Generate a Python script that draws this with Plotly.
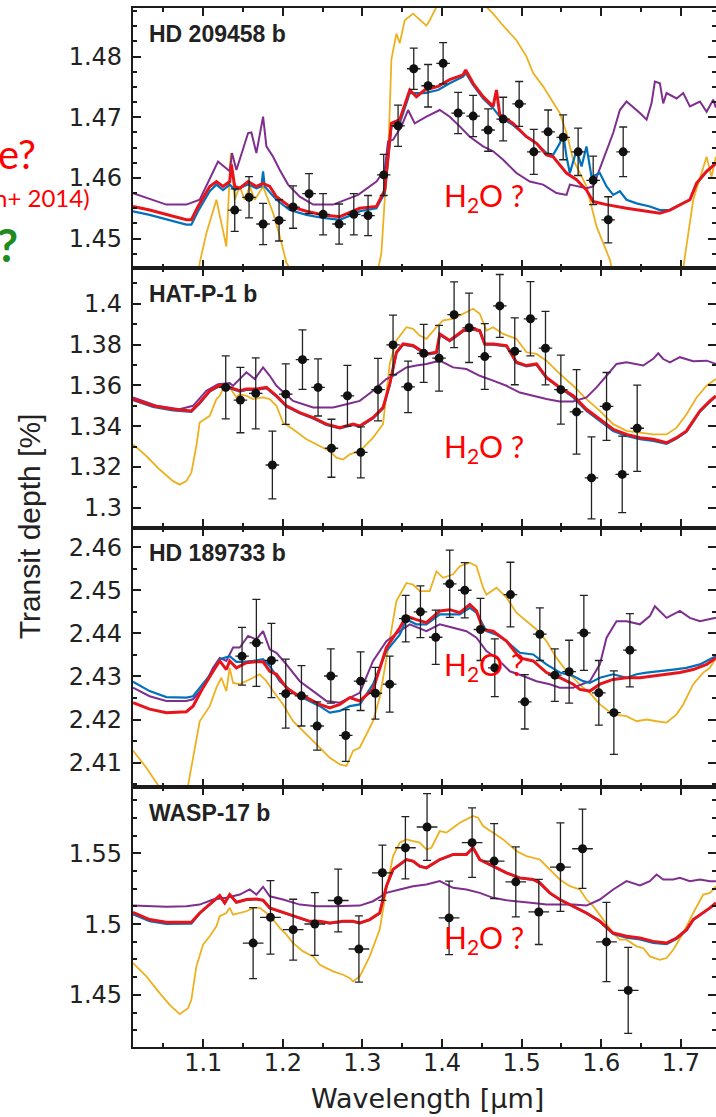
import plotly.graph_objects as go
from plotly.subplots import make_subplots

# ---------------- observations (wavelength um, transit depth %, 1-sigma) -------------
P1_NAME = "HD 209458 b"
P1_WL = [1.1396, 1.1576, 1.1752, 1.1953, 1.2129, 1.2330, 1.2506, 1.2707, 1.2892, 1.3071,
         1.3268, 1.3448, 1.3645, 1.3825, 1.4014, 1.4202, 1.4391, 1.4579, 1.4768, 1.4969,
         1.5153, 1.5333, 1.5522, 1.5710, 1.5899, 1.6088, 1.6276]
P1_DEPTH = [1.4547, 1.4568, 1.4524, 1.4530, 1.4552, 1.4574, 1.4540, 1.4524, 1.4540, 1.4538,
            1.4605, 1.4686, 1.4780, 1.4752, 1.4789, 1.4707, 1.4702, 1.4679, 1.4697, 1.4722,
            1.4643, 1.4676, 1.4667, 1.4643, 1.4596, 1.4531, 1.4643]
P1_ERR = [0.0035, 0.0034, 0.0034, 0.0034, 0.0035, 0.0033, 0.0034, 0.0033, 0.0034, 0.0033,
          0.0034, 0.0034, 0.0034, 0.0035, 0.0034, 0.0034, 0.0034, 0.0035, 0.0036, 0.0037,
          0.0037, 0.0036, 0.0037, 0.0039, 0.0040, 0.0038, 0.0041]

P2_NAME = "HAT-P-1 b"
P2_WL = [1.1283, 1.1467, 1.1660, 1.1869, 1.2037, 1.2247, 1.2443, 1.2611, 1.2812, 1.2980,
         1.3196, 1.3385, 1.3574, 1.3770, 1.3963, 1.4152, 1.4340, 1.4537, 1.4726, 1.4914,
         1.5111, 1.5300, 1.5493, 1.5690, 1.5878, 1.6067, 1.6264, 1.6452]
P2_DEPTH = [1.3590, 1.3528, 1.3561, 1.3210, 1.3557, 1.3726, 1.3590, 1.3292, 1.3549, 1.3272,
            1.3579, 1.3798, 1.3593, 1.3757, 1.3733, 1.3946, 1.3882, 1.3741, 1.3989, 1.3767,
            1.3926, 1.3782, 1.3579, 1.3470, 1.3147, 1.3497, 1.3164, 1.3390]
P2_ERR = [0.0154, 0.0160, 0.0174, 0.0166, 0.0148, 0.0146, 0.0140, 0.0142, 0.0149, 0.0125,
          0.0153, 0.0146, 0.0126, 0.0142, 0.0161, 0.0161, 0.0170, 0.0161, 0.0154, 0.0164,
          0.0182, 0.0180, 0.0169, 0.0207, 0.0201, 0.0166, 0.0187, 0.0211]

P3_NAME = "HD 189733 b"
P3_WL = [1.1488, 1.1668, 1.1857, 1.2037, 1.2234, 1.2431, 1.2603, 1.2791, 1.2977, 1.3163,
         1.3343, 1.3544, 1.3729, 1.3921, 1.4097, 1.4286, 1.4483, 1.4663, 1.4860, 1.5040,
         1.5229, 1.5417, 1.5597, 1.5782, 1.5970, 1.6159, 1.6360]
P3_DEPTH = [2.4347, 2.4378, 2.4337, 2.4260, 2.4255, 2.4185, 2.4301, 2.4163, 2.4289, 2.4261,
            2.4282, 2.4434, 2.4450, 2.4391, 2.4515, 2.4500, 2.4409, 2.4320, 2.4490, 2.4241,
            2.4398, 2.4303, 2.4311, 2.4401, 2.4262, 2.4216, 2.4361]
P3_ERR = [0.0067, 0.0101, 0.0086, 0.0080, 0.0070, 0.0056, 0.0063, 0.0060, 0.0068, 0.0060,
          0.0065, 0.0054, 0.0060, 0.0063, 0.0078, 0.0064, 0.0072, 0.0067, 0.0075, 0.0063,
          0.0061, 0.0061, 0.0073, 0.0087, 0.0075, 0.0097, 0.0085]

P4_NAME = "WASP-17 b"
P4_WL = [1.1627, 1.1845, 1.2130, 1.2402, 1.2696, 1.2956, 1.3251, 1.3540, 1.3812, 1.4089,
         1.4378, 1.4655, 1.4927, 1.5216, 1.5488, 1.5765, 1.6066, 1.6339]
P4_DEPTH = [1.4866, 1.5048, 1.4961, 1.5001, 1.5167, 1.4824, 1.5363, 1.5540, 1.5687, 1.5044,
            1.5576, 1.5446, 1.5299, 1.5086, 1.5403, 1.5533, 1.4874, 1.4531]
P4_ERR = [0.0251, 0.0260, 0.0215, 0.0222, 0.0222, 0.0234, 0.0195, 0.0220, 0.0236, 0.0260,
          0.0246, 0.0265, 0.0248, 0.0230, 0.0313, 0.0280, 0.0280, 0.0304]

BIN_HALF_WIDTH = [0.0085, 0.0085, 0.0085, 0.0130]

# ---------------- model spectra: (wavelength, depth) pairs ----------------
P1_YELLOW = [(1.0118, 1.428), (1.05, 1.432), (1.09, 1.440), (1.0956, 1.446), (1.104, 1.4509),
             (1.1166, 1.4564), (1.1291, 1.4487), (1.1346, 1.4641), (1.1396, 1.4564), (1.1459, 1.4586),
             (1.1522, 1.4564), (1.1584, 1.4586), (1.1647, 1.4564), (1.1752, 1.4586), (1.1815, 1.4564),
             (1.1878, 1.4542), (1.1962, 1.4504), (1.2045, 1.446), (1.2129, 1.4443), (1.25, 1.430),
             (1.30, 1.432), (1.3238, 1.4476), (1.328, 1.4564), (1.3322, 1.463), (1.3364, 1.4795),
             (1.3427, 1.4838), (1.3469, 1.4822), (1.3532, 1.486), (1.3636, 1.4871), (1.3804, 1.4851),
             (1.3846, 1.486), (1.393, 1.4882), (1.4014, 1.4893), (1.4223, 1.493), (1.4433, 1.4915),
             (1.4558, 1.4882), (1.4642, 1.4871), (1.4768, 1.4851), (1.4935, 1.4827), (1.5061, 1.480),
             (1.5145, 1.4773), (1.527, 1.4751), (1.5375, 1.4729), (1.548, 1.4707), (1.5564, 1.4674),
             (1.5648, 1.463), (1.5815, 1.4586), (1.5941, 1.452), (1.6109, 1.4465), (1.615, 1.444),
             (1.6318, 1.430), (1.6737, 1.430), (1.6988, 1.444), (1.703, 1.4451), (1.7156, 1.4564),
             (1.7282, 1.4619), (1.7324, 1.4635), (1.7386, 1.4602), (1.7441, 1.4635)]
P1_PURPLE = [(1.0118, 1.4575), (1.0537, 1.4556), (1.0788, 1.4556), (1.0956, 1.4564), (1.1186, 1.4627),
             (1.1333, 1.4611), (1.1362, 1.4641), (1.1417, 1.4613), (1.1564, 1.4674), (1.1605, 1.4675),
             (1.1668, 1.4641), (1.1752, 1.4701), (1.1794, 1.4652), (1.1878, 1.4635), (1.1962, 1.4613),
             (1.2066, 1.4589), (1.2213, 1.4569), (1.2381, 1.4556), (1.2632, 1.4556), (1.28, 1.4564),
             (1.2946, 1.4572), (1.3176, 1.4594), (1.328, 1.4613), (1.3322, 1.466), (1.3385, 1.4663),
             (1.349, 1.4685), (1.3574, 1.4712), (1.3657, 1.469), (1.3804, 1.4701), (1.3972, 1.4712),
             (1.4097, 1.4701), (1.4223, 1.4685), (1.4349, 1.4668), (1.4516, 1.4652), (1.4642, 1.4644),
             (1.4768, 1.463), (1.4935, 1.4608), (1.5103, 1.4594), (1.527, 1.4589), (1.5438, 1.4575),
             (1.5564, 1.4572), (1.5606, 1.4589), (1.5815, 1.4583), (1.5899, 1.4586), (1.6025, 1.463),
             (1.615, 1.4674), (1.6234, 1.4712), (1.6318, 1.4726), (1.6486, 1.4707), (1.657, 1.4696),
             (1.6632, 1.4723), (1.6674, 1.4759), (1.6737, 1.4756), (1.6779, 1.4723), (1.6821, 1.474),
             (1.6947, 1.4731), (1.703, 1.474), (1.7114, 1.4718), (1.724, 1.4726), (1.7324, 1.4709),
             (1.7407, 1.4729), (1.7441, 1.4716)]
P1_BLUE = [(1.0118, 1.4545), (1.0327, 1.4539), (1.0788, 1.4523), (1.0851, 1.4523), (1.0935, 1.4545),
           (1.1082, 1.4578), (1.1166, 1.4589), (1.1249, 1.458), (1.1333, 1.4589), (1.1396, 1.458),
           (1.1564, 1.4589), (1.1668, 1.4583), (1.1731, 1.4586), (1.1752, 1.4611), (1.1773, 1.4586),
           (1.192, 1.4564), (1.2087, 1.4547), (1.2297, 1.4539), (1.2506, 1.4534), (1.2716, 1.4531),
           (1.2925, 1.4542), (1.2966, 1.4545), (1.3176, 1.455), (1.328, 1.4575), (1.3364, 1.4685),
           (1.3469, 1.469), (1.3595, 1.474), (1.3783, 1.474), (1.3951, 1.4745), (1.4097, 1.4756),
           (1.4265, 1.4767), (1.4298, 1.4773), (1.4391, 1.4753), (1.4516, 1.4731), (1.4642, 1.4715),
           (1.4726, 1.4701), (1.4893, 1.4687), (1.5061, 1.4668), (1.5187, 1.4657), (1.5312, 1.4641),
           (1.5396, 1.4638), (1.548, 1.4657), (1.5522, 1.4674), (1.5564, 1.4635), (1.5606, 1.4608),
           (1.569, 1.4646), (1.5753, 1.4619), (1.5815, 1.4652), (1.5878, 1.4602), (1.5983, 1.4608),
           (1.6067, 1.4586), (1.615, 1.4572), (1.6234, 1.4578), (1.6318, 1.4564), (1.6444, 1.4558),
           (1.6611, 1.4553), (1.6737, 1.4547), (1.6863, 1.4547), (1.6988, 1.4556), (1.7114, 1.4564),
           (1.7198, 1.4591), (1.7324, 1.4611), (1.7441, 1.4624)]
P1_RED = [(1.0118, 1.4553), (1.0327, 1.4547), (1.0788, 1.4531), (1.0851, 1.4531), (1.0935, 1.4553),
          (1.1082, 1.4586), (1.1166, 1.4594), (1.1249, 1.4586), (1.1333, 1.4594), (1.1354, 1.4622),
          (1.1396, 1.4586), (1.1459, 1.4583), (1.1564, 1.4594), (1.1668, 1.4586), (1.1752, 1.4591),
          (1.1836, 1.4586), (1.192, 1.4569), (1.2087, 1.4553), (1.2297, 1.4545), (1.2506, 1.4539),
          (1.2716, 1.4536), (1.2925, 1.4547), (1.2966, 1.455), (1.3176, 1.4553), (1.328, 1.458),
          (1.3364, 1.469), (1.3469, 1.4696), (1.3595, 1.4745), (1.3678, 1.4734), (1.3783, 1.4745),
          (1.3951, 1.4751), (1.4097, 1.4762), (1.4265, 1.477), (1.4298, 1.4778), (1.4391, 1.4756),
          (1.4516, 1.4734), (1.4642, 1.4718), (1.4684, 1.4745), (1.4726, 1.4704), (1.4893, 1.469),
          (1.5061, 1.4668), (1.5187, 1.4657), (1.5312, 1.4638), (1.5396, 1.4635), (1.5564, 1.4608),
          (1.569, 1.4597), (1.5815, 1.458), (1.5899, 1.4561), (1.6067, 1.4556), (1.6318, 1.455),
          (1.657, 1.4545), (1.6737, 1.4542), (1.6863, 1.4547), (1.6988, 1.4556), (1.7114, 1.4564),
          (1.7198, 1.4591), (1.7324, 1.4611), (1.7441, 1.4624)]

P2_YELLOW = [(1.0118, 1.3311), (1.0286, 1.3254), (1.0453, 1.3188), (1.0621, 1.3131), (1.0704, 1.3114),
             (1.0788, 1.3131), (1.0851, 1.3172), (1.0914, 1.3303), (1.0956, 1.3418), (1.1082, 1.3451),
             (1.1166, 1.3533), (1.1207, 1.3549), (1.1249, 1.3582), (1.1333, 1.359), (1.1375, 1.3565),
             (1.1417, 1.3541), (1.1459, 1.3557), (1.1543, 1.3549), (1.1626, 1.3533), (1.1752, 1.3541),
             (1.1836, 1.3533), (1.192, 1.350), (1.2003, 1.3418), (1.2129, 1.3385), (1.2297, 1.3336),
             (1.2464, 1.3303), (1.259, 1.3278), (1.2674, 1.3246), (1.2758, 1.3237), (1.2841, 1.3262),
             (1.2967, 1.3278), (1.3134, 1.3344), (1.3259, 1.341), (1.3343, 1.3705), (1.3427, 1.382),
             (1.3553, 1.3885), (1.3636, 1.3877), (1.372, 1.3844), (1.3804, 1.3828), (1.393, 1.3885),
             (1.4014, 1.3918), (1.4139, 1.3926), (1.4307, 1.3959), (1.4391, 1.3975), (1.4474, 1.3951),
             (1.4558, 1.3869), (1.4642, 1.3885), (1.4768, 1.3852), (1.4935, 1.3828), (1.5061, 1.3762),
             (1.5187, 1.3754), (1.5312, 1.3721), (1.548, 1.3656), (1.5648, 1.3598), (1.5815, 1.3533),
             (1.5983, 1.3475), (1.615, 1.341), (1.6318, 1.3377), (1.6486, 1.3369), (1.6653, 1.336),
             (1.6821, 1.336), (1.6947, 1.3393), (1.7072, 1.3459), (1.7198, 1.3541), (1.7324, 1.3598),
             (1.7441, 1.3631)]
P2_PURPLE = [(1.0118, 1.3541), (1.0411, 1.350), (1.0704, 1.3483), (1.0872, 1.350), (1.104, 1.3574),
             (1.1186, 1.3606), (1.1333, 1.3611), (1.1375, 1.3598), (1.1543, 1.3664), (1.1647, 1.3631),
             (1.1752, 1.3688), (1.1836, 1.3647), (1.192, 1.3598), (1.2129, 1.3524), (1.2381, 1.3492),
             (1.2632, 1.3492), (1.28, 1.3508), (1.2967, 1.3524), (1.3134, 1.3574), (1.3301, 1.3631),
             (1.3385, 1.3647), (1.3553, 1.3688), (1.3678, 1.3697), (1.3804, 1.3705), (1.3972, 1.3721),
             (1.4139, 1.3688), (1.4307, 1.368), (1.4474, 1.3647), (1.4642, 1.3623), (1.481, 1.3598),
             (1.4977, 1.3565), (1.5145, 1.3549), (1.5312, 1.3533), (1.548, 1.3521), (1.5648, 1.3521),
             (1.5815, 1.3541), (1.5941, 1.359), (1.6067, 1.3647), (1.6192, 1.3705), (1.6318, 1.3713),
             (1.6528, 1.3697), (1.6653, 1.373), (1.6716, 1.3757), (1.6779, 1.3729), (1.6863, 1.3713),
             (1.6988, 1.3738), (1.7156, 1.3718), (1.7324, 1.3721), (1.7441, 1.3705)]
P2_BLUE = [(1.0118, 1.3528), (1.0369, 1.3495), (1.0621, 1.3478), (1.0851, 1.3470), (1.0956, 1.3511),
           (1.1082, 1.3570), (1.1207, 1.3597), (1.1333, 1.3586), (1.1459, 1.3570), (1.1543, 1.3578),
           (1.1668, 1.3578), (1.1794, 1.3586), (1.192, 1.3545), (1.2045, 1.3496), (1.2213, 1.3463),
           (1.2381, 1.3438), (1.2548, 1.3406), (1.2716, 1.3389), (1.2883, 1.3406), (1.2967, 1.3397),
           (1.3134, 1.3438), (1.3259, 1.3487), (1.3343, 1.3602), (1.3427, 1.3758), (1.3511, 1.3799),
           (1.3636, 1.3791), (1.3804, 1.375), (1.393, 1.3758), (1.3972, 1.3848), (1.4097, 1.3816),
           (1.4181, 1.384), (1.4265, 1.3865), (1.4391, 1.3873), (1.4474, 1.3865), (1.4537, 1.3799),
           (1.4642, 1.3799), (1.481, 1.3791), (1.4935, 1.3709), (1.5061, 1.3693), (1.5187, 1.3701),
           (1.5312, 1.3635), (1.548, 1.3586), (1.5648, 1.3541), (1.5815, 1.3475), (1.5983, 1.3426),
           (1.615, 1.3377), (1.6318, 1.3352), (1.6486, 1.3336), (1.6653, 1.3328), (1.6821, 1.3314),
           (1.6947, 1.334), (1.7072, 1.3373), (1.7156, 1.3422), (1.724, 1.3471), (1.7366, 1.352),
           (1.7441, 1.3545)]
P2_RED = [(1.0118, 1.3533), (1.0369, 1.350), (1.0621, 1.3483), (1.0851, 1.3475), (1.0956, 1.3516),
          (1.1082, 1.3574), (1.1207, 1.3601), (1.1333, 1.359), (1.1459, 1.3574), (1.1543, 1.3582),
          (1.1668, 1.3582), (1.1794, 1.359), (1.192, 1.3549), (1.2045, 1.350), (1.2213, 1.3467),
          (1.2381, 1.3442), (1.2548, 1.341), (1.2716, 1.3393), (1.2883, 1.341), (1.2967, 1.3401),
          (1.3134, 1.3442), (1.3259, 1.3491), (1.3343, 1.3606), (1.3427, 1.3762), (1.3511, 1.3803),
          (1.3636, 1.3795), (1.3804, 1.3754), (1.393, 1.3762), (1.3972, 1.3852), (1.4097, 1.382),
          (1.4181, 1.3844), (1.4265, 1.3869), (1.4391, 1.3877), (1.4474, 1.3869), (1.4537, 1.3803),
          (1.4642, 1.3803), (1.481, 1.3795), (1.4935, 1.3713), (1.5061, 1.3697), (1.5187, 1.3705),
          (1.5312, 1.3639), (1.548, 1.359), (1.5648, 1.3549), (1.5815, 1.3483), (1.5983, 1.3434),
          (1.615, 1.3385), (1.6318, 1.336), (1.6486, 1.3344), (1.6653, 1.3336), (1.6821, 1.3319),
          (1.6947, 1.3344), (1.7072, 1.3377), (1.7156, 1.3426), (1.724, 1.3475), (1.7366, 1.3524),
          (1.7441, 1.3549)]

P3_YELLOW = [(1.0118, 2.4128), (1.0286, 2.4088), (1.0453, 2.4042), (1.0621, 2.4010), (1.0788, 2.4025),
             (1.0872, 2.4111), (1.0956, 2.4196), (1.1082, 2.4231), (1.1166, 2.4274), (1.1228, 2.4297),
             (1.1291, 2.4266), (1.1333, 2.432), (1.1375, 2.4285), (1.1459, 2.4282), (1.1543, 2.4289),
             (1.1626, 2.4297), (1.171, 2.4305), (1.1794, 2.4289), (1.1878, 2.4266), (1.2003, 2.4235),
             (1.2129, 2.4196), (1.2297, 2.4166), (1.2464, 2.4135), (1.259, 2.4111), (1.2716, 2.4096),
             (1.28, 2.4092), (1.2883, 2.4127), (1.2967, 2.4135), (1.3134, 2.4196), (1.3217, 2.4251),
             (1.3343, 2.4382), (1.3427, 2.4475), (1.3553, 2.4517), (1.3636, 2.4513), (1.372, 2.4498),
             (1.3846, 2.4498), (1.393, 2.4544), (1.4014, 2.4529), (1.4139, 2.4537), (1.4223, 2.4556),
             (1.4349, 2.4564), (1.4433, 2.4556), (1.4516, 2.4506), (1.4558, 2.449), (1.4684, 2.4506),
             (1.481, 2.4483), (1.4935, 2.4448), (1.5061, 2.4428), (1.5187, 2.4409), (1.5312, 2.4382),
             (1.5438, 2.4343), (1.5564, 2.4312), (1.569, 2.4289), (1.5773, 2.4274), (1.5857, 2.4262),
             (1.5983, 2.4235), (1.615, 2.4212), (1.6318, 2.4208), (1.6444, 2.4196), (1.657, 2.420),
             (1.6695, 2.4196), (1.6821, 2.4193), (1.6947, 2.4212), (1.703, 2.4235), (1.7156, 2.4282),
             (1.7282, 2.4309), (1.7366, 2.432), (1.7441, 2.4343)]
P3_PURPLE = [(1.0118, 2.4274), (1.0327, 2.4254), (1.0537, 2.4243), (1.0788, 2.4243), (1.0872, 2.4247),
             (1.0998, 2.4274), (1.1124, 2.432), (1.1207, 2.4343), (1.1291, 2.4336), (1.1375, 2.4367),
             (1.1459, 2.4367), (1.1564, 2.4394), (1.1668, 2.4386), (1.1752, 2.4405), (1.1836, 2.4363),
             (1.192, 2.4355), (1.2045, 2.4328), (1.2213, 2.4289), (1.2381, 2.4266), (1.2548, 2.4243),
             (1.2716, 2.4239), (1.2841, 2.4251), (1.2967, 2.4262), (1.3134, 2.4336), (1.3301, 2.4382),
             (1.3469, 2.4405), (1.3595, 2.4421), (1.3804, 2.4405), (1.3972, 2.4421), (1.4139, 2.4413),
             (1.4307, 2.4405), (1.4433, 2.439), (1.4558, 2.4359), (1.4684, 2.4343), (1.4852, 2.4312),
             (1.5019, 2.4301), (1.5187, 2.4289), (1.5354, 2.4282), (1.548, 2.4274), (1.5648, 2.4274),
             (1.5773, 2.4282), (1.5857, 2.4289), (1.5983, 2.4328), (1.6067, 2.439), (1.6192, 2.4428),
             (1.6318, 2.4428), (1.6486, 2.4421), (1.6611, 2.444), (1.6674, 2.4463), (1.6737, 2.4452),
             (1.6821, 2.4436), (1.6988, 2.4452), (1.7114, 2.4436), (1.724, 2.4428), (1.7441, 2.4436)]
P3_BLUE = [(1.0118, 2.4288), (1.0327, 2.4266), (1.0537, 2.4252), (1.0788, 2.4251), (1.0872, 2.4254),
           (1.0998, 2.4282), (1.1124, 2.4312), (1.1207, 2.434), (1.1333, 2.4347), (1.1417, 2.4334),
           (1.15, 2.4334), (1.1626, 2.4336), (1.1752, 2.434), (1.1836, 2.4324), (1.1962, 2.4289),
           (1.2129, 2.4262), (1.2297, 2.4247), (1.2464, 2.4231), (1.259, 2.4216), (1.2716, 2.422),
           (1.2841, 2.4231), (1.2967, 2.4235), (1.3134, 2.4282), (1.3301, 2.4359), (1.3469, 2.4397),
           (1.3553, 2.4432), (1.3678, 2.4421), (1.3804, 2.4421), (1.3972, 2.4444), (1.4097, 2.4444),
           (1.4223, 2.4444), (1.4349, 2.4459), (1.4433, 2.4448), (1.4558, 2.4405), (1.4684, 2.4397),
           (1.481, 2.4382), (1.4977, 2.4355), (1.5145, 2.4351), (1.5312, 2.4328), (1.548, 2.4309),
           (1.5648, 2.4301), (1.5773, 2.4289), (1.5857, 2.4285), (1.5983, 2.4297), (1.615, 2.4305),
           (1.6318, 2.4297), (1.6444, 2.4305), (1.657, 2.4309), (1.6737, 2.4312), (1.6905, 2.4316),
           (1.7072, 2.432), (1.724, 2.4328), (1.7366, 2.434), (1.7441, 2.4347)]
P3_RED = [(1.0118, 2.4239), (1.0327, 2.4224), (1.0537, 2.4216), (1.0788, 2.4218), (1.0872, 2.4231),
          (1.0998, 2.4274), (1.1124, 2.4312), (1.1207, 2.4336), (1.1291, 2.4316), (1.1333, 2.4336),
          (1.1417, 2.432), (1.1543, 2.4332), (1.1668, 2.4334), (1.1752, 2.4334), (1.1836, 2.4312),
          (1.192, 2.4305), (1.2045, 2.4274), (1.2171, 2.4258), (1.2297, 2.4251), (1.2464, 2.4235),
          (1.259, 2.4227), (1.2716, 2.4235), (1.2841, 2.4251), (1.2967, 2.4243), (1.3134, 2.427),
          (1.3301, 2.4367), (1.3469, 2.4413), (1.3553, 2.444), (1.3678, 2.4432), (1.3804, 2.4425),
          (1.3972, 2.4452), (1.4097, 2.4455), (1.4223, 2.4448), (1.4349, 2.4467), (1.4433, 2.4452),
          (1.4516, 2.4409), (1.4642, 2.4405), (1.481, 2.4382), (1.4977, 2.4343), (1.5145, 2.4336),
          (1.5312, 2.4309), (1.548, 2.4297), (1.5648, 2.4282), (1.5731, 2.427), (1.5857, 2.4266),
          (1.5983, 2.4282), (1.615, 2.4293), (1.6318, 2.4297), (1.6486, 2.4297), (1.6653, 2.4301),
          (1.6821, 2.4305), (1.6988, 2.4309), (1.7156, 2.4316), (1.7324, 2.4328), (1.7441, 2.4343)]

P4_YELLOW = [(1.0118, 1.4725), (1.0286, 1.463), (1.0453, 1.4512), (1.0579, 1.4429), (1.0704, 1.4363),
             (1.0809, 1.4405), (1.0851, 1.4465), (1.0914, 1.4701), (1.0998, 1.4855), (1.1082, 1.4914),
             (1.1166, 1.4985), (1.1207, 1.5056), (1.1291, 1.5079), (1.1333, 1.5115), (1.1375, 1.5067),
             (1.1459, 1.5079), (1.1543, 1.5091), (1.1626, 1.5115), (1.171, 1.5115), (1.1794, 1.5079),
             (1.1878, 1.5032), (1.1962, 1.4973), (1.2045, 1.4926), (1.2129, 1.4866), (1.2255, 1.4807),
             (1.2381, 1.4772), (1.2464, 1.4713), (1.2548, 1.4689), (1.2632, 1.4666), (1.2758, 1.4642),
             (1.2841, 1.4618), (1.2883, 1.4595), (1.2967, 1.463), (1.3092, 1.4772), (1.3217, 1.4961),
             (1.3301, 1.5245), (1.3385, 1.5481), (1.3469, 1.5576), (1.3553, 1.5599), (1.3636, 1.5587),
             (1.372, 1.5576), (1.3804, 1.5528), (1.3867, 1.554), (1.3972, 1.5658), (1.4055, 1.5647),
             (1.4139, 1.5682), (1.4223, 1.5717), (1.4307, 1.5741), (1.4391, 1.5765), (1.4453, 1.5753),
             (1.4516, 1.5694), (1.4642, 1.5647), (1.4768, 1.5599), (1.4935, 1.5517), (1.5061, 1.5481),
             (1.5229, 1.5457), (1.5354, 1.5387), (1.548, 1.5316), (1.5606, 1.5268), (1.5731, 1.5245),
             (1.5815, 1.5174), (1.5899, 1.5127), (1.6025, 1.5032), (1.615, 1.4937), (1.6234, 1.489),
             (1.6318, 1.489), (1.6444, 1.4843), (1.6528, 1.4831), (1.6611, 1.4772), (1.6737, 1.4748),
             (1.6821, 1.476), (1.6905, 1.4819), (1.703, 1.4937), (1.7156, 1.5079), (1.7282, 1.5209),
             (1.7366, 1.5221), (1.7441, 1.5268)]
P4_PURPLE = [(1.0118, 1.5131), (1.0537, 1.5122), (1.0788, 1.5127), (1.0956, 1.5138), (1.1124, 1.5174),
             (1.1291, 1.5186), (1.1459, 1.5209), (1.1584, 1.5245), (1.1668, 1.5209), (1.1752, 1.5264),
             (1.1836, 1.5197), (1.2003, 1.5174), (1.2213, 1.5138), (1.2422, 1.5127), (1.2632, 1.5127),
             (1.2967, 1.5131), (1.3134, 1.5162), (1.3301, 1.5221), (1.3469, 1.5245), (1.3636, 1.5268),
             (1.3804, 1.528), (1.3972, 1.5304), (1.4139, 1.5257), (1.4307, 1.5245), (1.4474, 1.5221),
             (1.4642, 1.5186), (1.481, 1.5169), (1.4977, 1.5162), (1.5145, 1.515), (1.5312, 1.5138),
             (1.548, 1.5138), (1.5648, 1.5138), (1.5815, 1.5131), (1.5983, 1.5174), (1.615, 1.5245),
             (1.6318, 1.5304), (1.6486, 1.5273), (1.6611, 1.5304), (1.6695, 1.5351), (1.6779, 1.5316),
             (1.6905, 1.5316), (1.6988, 1.5327), (1.7114, 1.5304), (1.724, 1.5316), (1.7366, 1.5304),
             (1.7441, 1.5304)]
P4_BLUE = [(1.0118, 1.5070), (1.0327, 1.5020), (1.0537, 1.5002), (1.0851, 1.5003), (1.0956, 1.5075),
           (1.1124, 1.5160), (1.1207, 1.5200), (1.127, 1.5148), (1.1333, 1.5207), (1.1417, 1.5153),
           (1.1543, 1.5172), (1.1668, 1.5176), (1.1752, 1.5167), (1.1836, 1.5113), (1.1962, 1.5089),
           (1.2087, 1.5065), (1.2213, 1.5042), (1.2339, 1.5018), (1.2464, 1.5018), (1.259, 1.5006),
           (1.2758, 1.5018), (1.2883, 1.5018), (1.2967, 1.5006), (1.3092, 1.503), (1.3217, 1.5077),
           (1.3301, 1.5266), (1.3385, 1.5385), (1.3469, 1.542), (1.3553, 1.5455), (1.3636, 1.5444),
           (1.372, 1.5408), (1.3804, 1.5396), (1.3972, 1.5455), (1.4139, 1.5491), (1.4307, 1.5491),
           (1.4391, 1.5538), (1.4474, 1.5455), (1.4642, 1.5408), (1.481, 1.5361), (1.4977, 1.5325),
           (1.5145, 1.5314), (1.5229, 1.529), (1.5354, 1.5219), (1.548, 1.5172), (1.5648, 1.5125),
           (1.5815, 1.5077), (1.5983, 1.5018), (1.615, 1.4930), (1.6318, 1.4905), (1.6486, 1.4892),
           (1.6653, 1.4868), (1.6821, 1.4858), (1.6947, 1.4896), (1.7072, 1.4957), (1.7156, 1.5030),
           (1.7282, 1.5077), (1.7366, 1.5113), (1.7441, 1.5148)]
P4_RED = [(1.0118, 1.5084), (1.0327, 1.5032), (1.0537, 1.5013), (1.0851, 1.5013), (1.0956, 1.5079),
          (1.1124, 1.5162), (1.1207, 1.5202), (1.127, 1.515), (1.1333, 1.5209), (1.1417, 1.5155),
          (1.1543, 1.5174), (1.1668, 1.5178), (1.1752, 1.5169), (1.1836, 1.5115), (1.1962, 1.5091),
          (1.2087, 1.5067), (1.2213, 1.5044), (1.2339, 1.502), (1.2464, 1.502), (1.259, 1.5008),
          (1.2758, 1.502), (1.2883, 1.502), (1.2967, 1.5008), (1.3092, 1.5032), (1.3217, 1.5079),
          (1.3301, 1.5268), (1.3385, 1.5387), (1.3469, 1.5422), (1.3553, 1.5457), (1.3636, 1.5446),
          (1.372, 1.541), (1.3804, 1.5398), (1.3972, 1.5457), (1.4139, 1.5493), (1.4307, 1.5493),
          (1.4391, 1.554), (1.4474, 1.5457), (1.4642, 1.541), (1.481, 1.5363), (1.4977, 1.5327),
          (1.5145, 1.5316), (1.5229, 1.5292), (1.5354, 1.5221), (1.548, 1.5174), (1.5648, 1.5127),
          (1.5815, 1.5079), (1.5983, 1.502), (1.615, 1.4937), (1.6318, 1.4914), (1.6486, 1.4902),
          (1.6653, 1.4878), (1.6821, 1.4866), (1.6947, 1.4902), (1.7072, 1.4961), (1.7156, 1.5032),
          (1.7282, 1.5079), (1.7366, 1.5115), (1.7441, 1.515)]

# ---------------- axes ----------------
X_RANGE = [1.0118, 1.7442]
X_TICKS = [1.1, 1.2, 1.3, 1.4, 1.5, 1.6, 1.7]
X_TICKTEXT = ["1.1", "1.2", "1.3", "1.4", "1.5", "1.6", "1.7"]
X_MINOR = [1.05, 1.15, 1.25, 1.35, 1.45, 1.55, 1.65]

Y_RANGES = [[1.44519, 1.48802], [1.2904, 1.4176], [2.40428, 2.46457], [1.4131, 1.5968]]
Y_TICKS = [[1.45, 1.46, 1.47, 1.48],
           [1.30, 1.32, 1.34, 1.36, 1.38, 1.40],
           [2.41, 2.42, 2.43, 2.44, 2.45, 2.46],
           [1.45, 1.50, 1.55]]
Y_TICKTEXT = [["1.45", "1.46", "1.47", "1.48"],
              ["1.3", "1.32", "1.34", "1.36", "1.38", "1.4"],
              ["2.41", "2.42", "2.43", "2.44", "2.45", "2.46"],
              ["1.45", "1.5", "1.55"]]
Y_MINOR_STEP = [0.0025, 0.01, 0.005, 0.0125]

PANELS = [
    (P1_NAME, P1_WL, P1_DEPTH, P1_ERR, P1_YELLOW, P1_PURPLE, P1_BLUE, P1_RED),
    (P2_NAME, P2_WL, P2_DEPTH, P2_ERR, P2_YELLOW, P2_PURPLE, P2_BLUE, P2_RED),
    (P3_NAME, P3_WL, P3_DEPTH, P3_ERR, P3_YELLOW, P3_PURPLE, P3_BLUE, P3_RED),
    (P4_NAME, P4_WL, P4_DEPTH, P4_ERR, P4_YELLOW, P4_PURPLE, P4_BLUE, P4_RED),
]

MODEL_STYLE = [("yellow", "#EDB120", 1.8), ("purple", "#7E2F8E", 2.0),
               ("blue", "#0072BD", 2.2), ("red", "#E8141B", 3.0)]

AXCOL = "#1c1c1c"
TICKFONT = dict(family="DejaVu Sans, sans-serif", size=24, color="#222")

fig = make_subplots(rows=4, cols=1, shared_xaxes=True, vertical_spacing=0)

for i, (name, wl, depth, err, yel, pur, blu, red) in enumerate(PANELS):
    row = i + 1
    for (label, color, width), series in zip(MODEL_STYLE, (yel, pur, blu, red)):
        fig.add_trace(go.Scatter(
            x=[p[0] for p in series], y=[p[1] for p in series], mode="lines",
            line=dict(color=color, width=width), hoverinfo="skip", name=label),
            row=row, col=1)
    fig.add_trace(go.Scatter(
        x=wl, y=depth, mode="markers",
        marker=dict(color="#111", size=9),
        error_y=dict(type="data", array=err, color="#222", thickness=1.3, width=4),
        error_x=dict(type="data", array=[BIN_HALF_WIDTH[i]] * len(wl), color="#222",
                     thickness=1.3, width=0),
        name=name), row=row, col=1)

    lo, hi = Y_RANGES[i]
    step = Y_MINOR_STEP[i]
    minor_vals = []
    k = int(lo / step) + 1
    while k * step < hi:
        v = round(k * step, 6)
        if all(abs(v - t) > 1e-6 for t in Y_TICKS[i]):
            minor_vals.append(v)
        k += 1
    fig.update_yaxes(
        range=Y_RANGES[i], tickmode="array", tickvals=Y_TICKS[i], ticktext=Y_TICKTEXT[i],
        ticks="inside", ticklen=8, tickwidth=2, tickcolor=AXCOL,
        minor=dict(tickmode="array", tickvals=minor_vals, ticks="inside", ticklen=4,
                   tickwidth=1.6, tickcolor=AXCOL, showgrid=False),
        showline=True, linecolor=AXCOL, linewidth=2.2, mirror="allticks",
        showgrid=False, zeroline=False, tickfont=TICKFONT, ticklabelstandoff=4,
        automargin=False, row=row, col=1)

    fig.update_xaxes(
        range=X_RANGE, tickmode="array", tickvals=X_TICKS, ticktext=X_TICKTEXT,
        ticks="inside", ticklen=8, tickwidth=2, tickcolor=AXCOL,
        minor=dict(tickmode="array", tickvals=X_MINOR, ticks="inside", ticklen=4,
                   tickwidth=1.6, tickcolor=AXCOL, showgrid=False),
        showline=True, linecolor=AXCOL, linewidth=2.2, mirror="allticks",
        showgrid=False, zeroline=False, tickfont=TICKFONT, ticklabelstandoff=-7,
        showticklabels=(row == 4), automargin=False, row=row, col=1)

    xref = "x domain" if row == 1 else f"x{row} domain"
    yref = "y domain" if row == 1 else f"y{row} domain"
    fig.add_annotation(text=f"<b>{name}</b>", xref=xref, yref=yref, x=0.024, y=0.9,
                       xanchor="left", yanchor="middle", showarrow=False,
                       font=dict(family="Liberation Sans, Arial, sans-serif", size=23,
                                 color="#222"))

H2O_Y = [0.272, 0.307, 0.465, 0.415]
for i, yy in enumerate(H2O_Y):
    row = i + 1
    xref = "x domain" if row == 1 else f"x{row} domain"
    yref = "y domain" if row == 1 else f"y{row} domain"
    fig.add_annotation(text="H<sub>2</sub>O ?", xref=xref, yref=yref, x=0.53, y=yy,
                       xanchor="left", yanchor="middle", showarrow=False,
                       font=dict(family="Lato, Open Sans, sans-serif", size=30, color="#FF0000"))

# cropped side notes on the left edge
fig.add_annotation(text="e?", xref="paper", yref="paper", x=-0.163, y=0.8595,
                   xanchor="right", yanchor="middle", showarrow=False,
                   font=dict(family="Lato, sans-serif", size=40, color="#FF0000"))
fig.add_annotation(text="n+ 2014)", xref="paper", yref="paper", x=-0.0703, y=0.818,
                   xanchor="right", yanchor="middle", showarrow=False,
                   font=dict(family="Lato, sans-serif", size=24, color="#FF0000"))
fig.add_annotation(text="<b>?</b>", xref="paper", yref="paper", x=-0.194, y=0.772,
                   xanchor="right", yanchor="middle", showarrow=False,
                   font=dict(family="Lato, sans-serif", size=46, color="#1E8C1E"))

# axis titles
fig.add_annotation(text="Transit depth [%]", xref="paper", yref="paper", x=-0.178, y=0.5014,
                   xanchor="center", yanchor="middle", textangle=-90, showarrow=False,
                   font=dict(family="Liberation Sans, Arial, sans-serif", size=30, color="#222"))
fig.add_annotation(text="Wavelength [µm]", xref="paper", yref="paper", x=0.505, y=-0.05,
                   xanchor="center", yanchor="middle", showarrow=False,
                   font=dict(family="DejaVu Sans, sans-serif", size=27, color="#222"))

fig.update_layout(
    width=716, height=1117,
    margin=dict(l=133, r=0, t=8, b=70, autoexpand=False),
    plot_bgcolor="white", paper_bgcolor="white",
    showlegend=False,
)

fig.write_html(
    "out.html",
    config={"displayModeBar": False},
    post_script="document.body.style.margin='0';document.body.style.overflow='hidden';",
)
